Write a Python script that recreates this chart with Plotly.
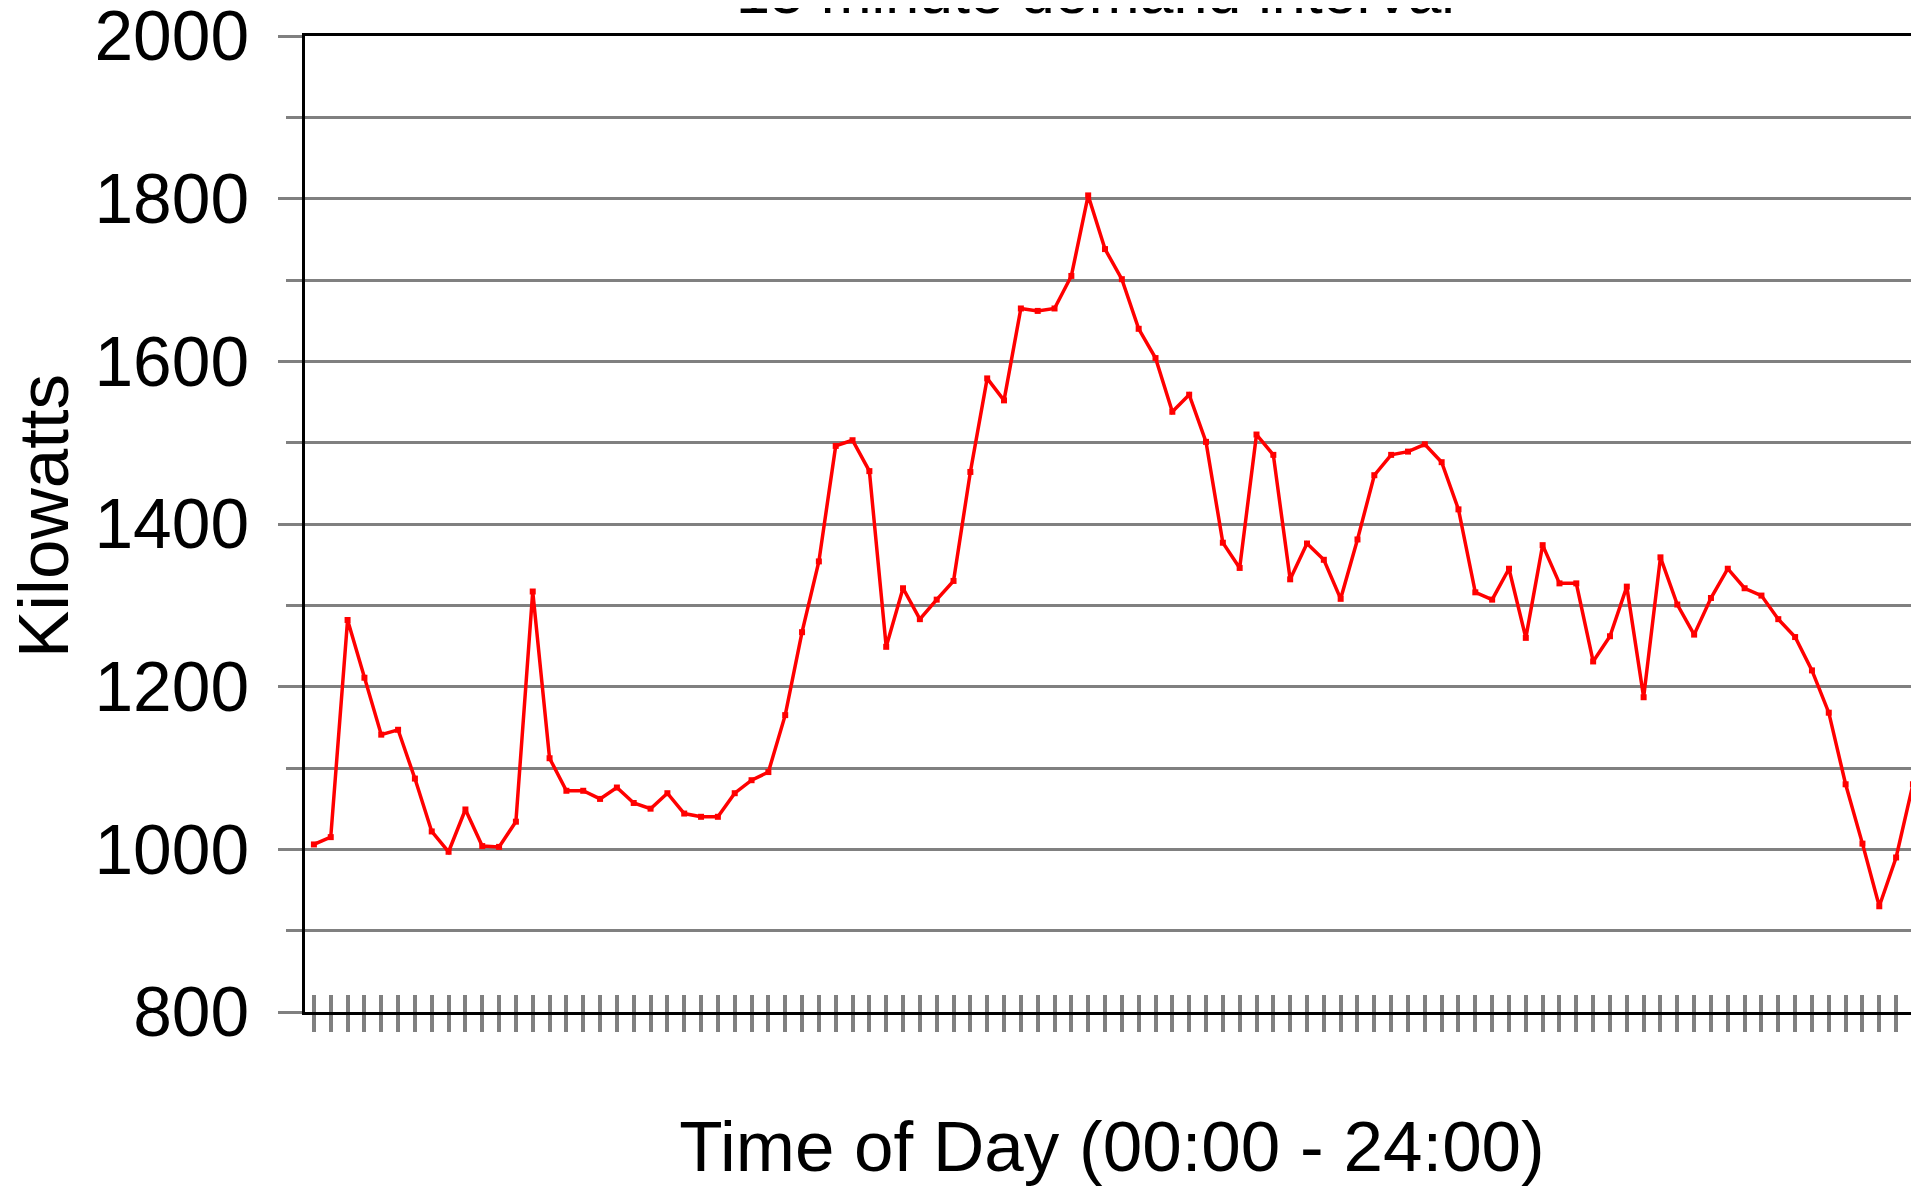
import plotly.graph_objects as go

# 15-minute demand intervals over one day (96 slots)
time_slots = [f"{h:02d}:{m:02d}" for h in range(24) for m in (0, 15, 30, 45)]

kilowatts = [
    1006, 1015, 1282, 1211, 1141, 1147, 1087, 1022, 997, 1049, 1004, 1003,
    1034, 1317, 1112, 1072, 1072, 1062, 1076, 1057, 1050, 1069, 1044, 1040,
    1040, 1069, 1085, 1095, 1165, 1267, 1354, 1496, 1503, 1465, 1249, 1321,
    1283, 1307, 1330, 1464, 1579, 1552, 1665, 1662, 1665, 1705, 1804, 1738,
    1701, 1640, 1604, 1538, 1559, 1501, 1377, 1346, 1510, 1485, 1332, 1376,
    1356, 1308, 1381, 1460, 1485, 1489, 1498, 1476, 1418, 1316, 1307, 1345,
    1260, 1374, 1327, 1327, 1231, 1262, 1323, 1187, 1359, 1301, 1264, 1309,
    1345, 1321, 1312, 1283, 1261, 1220, 1168, 1080, 1007, 930, 990, 1080,
]

title_text = "15 minute demand interval"
x_title = "Time of Day (00:00 - 24:00)"
y_title = "Kilowatts"

FONT = "Liberation Sans, Arial, sans-serif"
GRAY = "#808080"
x_range = [-0.53, 95.36]

fig = go.Figure()
fig.add_trace(go.Scatter(
    x=time_slots, y=kilowatts, mode="lines+markers",
    line=dict(color="#ff0000", width=3.5),
    marker=dict(symbol="square", size=6, color="#ff0000"),
    showlegend=False,
))
# helper trace so the overlay axis (inside half of the crossing ticks) is drawn
fig.add_trace(go.Scatter(x=[], y=[], xaxis="x2", showlegend=False, hoverinfo="skip"))

# the page body adds an 8px offset, so the figure is 8px smaller than the window
fig.update_layout(
    width=1911, height=1178,
    margin=dict(l=297, r=0, t=28, b=174),
    paper_bgcolor="white", plot_bgcolor="white",
    font=dict(family=FONT, color="black", size=70),
    xaxis=dict(
        type="category", range=x_range, automargin=False,
        showline=True, linecolor="black", linewidth=3, mirror=True,
        ticks="outside", ticklen=17, tickwidth=4, tickcolor=GRAY,
        showticklabels=False, showgrid=False, zeroline=False,
        title=dict(text=x_title, font=dict(size=71), standoff=91),
    ),
    xaxis2=dict(
        overlaying="x", anchor="y", side="bottom", type="linear",
        range=x_range, tick0=0, dtick=1, automargin=False,
        ticks="inside", ticklen=17, tickwidth=4, tickcolor=GRAY,
        showticklabels=False, showgrid=False, zeroline=False, showline=False,
    ),
    yaxis=dict(
        range=[800, 2000], tick0=800, dtick=200, automargin=False,
        showline=True, linecolor="black", linewidth=3,
        ticks="outside", ticklen=24, tickwidth=2.5, tickcolor=GRAY,
        showgrid=True, gridcolor=GRAY, gridwidth=2.5, zeroline=False,
        tickfont=dict(size=69.5), ticklabelstandoff=15,
        ticklabeloverflow="allow",
        minor=dict(dtick=100, tick0=800, ticks="outside", ticklen=16,
                   tickwidth=2.5, tickcolor=GRAY, showgrid=True,
                   gridcolor=GRAY, gridwidth=2.5),
    ),
    annotations=[
        dict(text=title_text, xref="paper", yref="paper",
             x=0.4895, y=1.008, xanchor="center", yanchor="bottom",
             showarrow=False, font=dict(size=61, color="black")),
        dict(text=y_title, xref="paper", yref="paper", textangle=-90,
             x=-0.1617, y=0.5082, xanchor="center", yanchor="middle",
             showarrow=False, font=dict(size=71, color="black")),
    ],
)

fig.write_html("out.html")
